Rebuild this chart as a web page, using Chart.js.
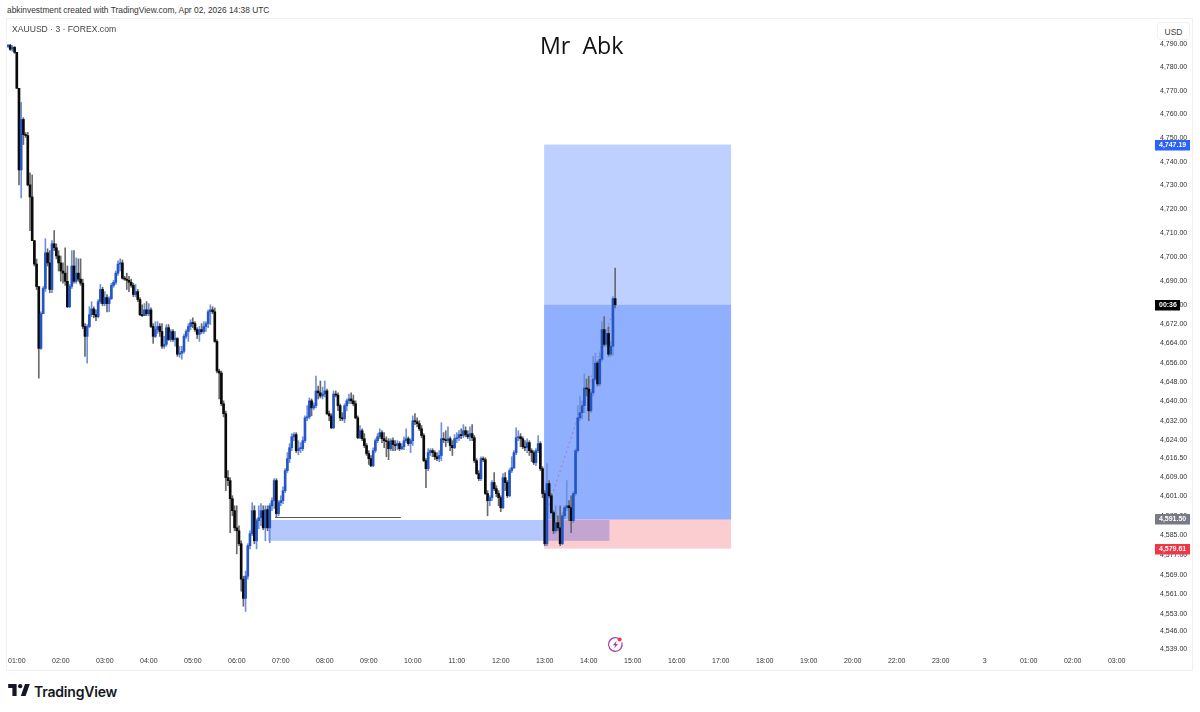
<!DOCTYPE html>
<html>
<head>
<meta charset="utf-8">
<title>XAUUSD</title>
<script src="https://cdn.jsdelivr.net/npm/chart.js@4"></script>
<style>
  html, body { margin: 0; background: #fff; width: 1200px; height: 712px; overflow: hidden; font-family: "Liberation Sans", sans-serif; }
  .abs { position: absolute; white-space: nowrap; }
  #frame { left: 6px; top: 18px; width: 1185px; height: 651px; border: 1px solid #f0f0f0; }
  #frame canvas { display: block; }
  #credit { left: 7px; top: 5px; font-size: 8.4px; color: #333; }
  #symbol { left: 12px; top: 24px; font-size: 8.6px; color: #444; }
  #title { left: 540px; top: 29px; font-size: 23.2px; color: #111; font-family: "Open Sans", sans-serif; white-space: pre; }
  #usd { left: 1157px; top: 22px; width: 33px; height: 18px; line-height: 18px; text-align: center; font-size: 8.5px; color: #444; background: #fff; border: 1px solid #f2f2f2; border-radius: 3px; box-sizing: border-box; }
  #brand { left: 34px; top: 683px; font-size: 14px; font-weight: 600; color: #131722; font-family: "Inter", sans-serif; letter-spacing: -0.2px; }
</style>
</head>
<body>
<div id="credit" class="abs">abkinvestment created with TradingView.com, Apr 02, 2026 14:38 UTC</div>
<div id="frame" class="abs"><canvas id="chart" width="1185" height="651"></canvas></div>
<div id="symbol" class="abs">XAUUSD · 3 · FOREX.com</div>
<div id="title" class="abs">Mr  Abk</div>
<div id="usd" class="abs">USD</div>
<svg class="abs" style="left:607px;top:636px" width="17" height="17" viewBox="0 0 17 17">
  <path d="M12.6 3.2A6.8 6.8 0 1 0 14.8 6.4" fill="none" stroke="#9c3fb5" stroke-width="1.2"/>
  <path d="M9.6 4.8 6 9.2h2.2L7.2 12.6 11 8h-2.2z" fill="#9c3fb5"/>
  <circle cx="12.6" cy="3.6" r="2" fill="#f23645"/>
</svg>
<svg class="abs" style="left:8px;top:684px" width="22" height="12" viewBox="0 0 36 20">
  <path d="M14 0H0v6.5h7V20h7zM29 20h-8l7-20h8z" fill="#131722"/><circle cx="20" cy="3.6" r="3.6" fill="#131722"/>
</svg>
<div id="brand" class="abs">TradingView</div>

<script>
// 3 minute candles. first candle sits just left of the 01:00 label
var opens = [
  4788.8,4789.2,4787.6,4788.4,4786.3,4771,4736.5,4757.8,4751.4,4751,4730.2,4725.1,4706.8,4697,4687.6,4661.9,4676.3,4686.8,4701.7,4697.5,
  4686.4,4705.5,4703.8,4700.4,4697.5,4694.1,4693.2,4689.8,4679.2,4687.7,4696.2,4689.8,4693.2,4690.7,4689,4671,4666.9,4671,4675.9,4678.3,
  4675.9,4675.1,4681.3,4686.4,4680.5,4683,4680.5,4682.6,4688.1,4689.4,4693.2,4697,4697.5,4691.1,4690.7,4690.2,4689.4,4688.1,4684.3,4685.5,
  4682.2,4675.9,4675.5,4677.9,4676.3,4677.9,4671,4666.9,4669.7,4671,4668.9,4662.8,4663.6,4670.5,4665.6,4668.9,4665.6,4666,4659.5,4659.9,
  4660.7,4666.9,4668.9,4671,4672.6,4672.2,4669.7,4667.7,4669.7,4668.9,4671,4672.2,4677.1,4677.9,4677.1,4664.8,4652.5,4651.7,4639,4634.9,
  4608.6,4607.4,4600,4595.1,4588.1,4586.9,4581.6,4567.2,4559.4,4568.4,4580.8,4585.7,4595.1,4582.8,4591,4592.2,4595.1,4588.1,4595.5,4588.1,
  4597.1,4599.2,4607.4,4593.9,4598.4,4599.2,4603.3,4611.5,4616.4,4620.9,4625.4,4626.3,4619.7,4620.5,4620.5,4623.8,4633.2,4633.6,4640.2,4637.3,
  4638.2,4644.3,4643.5,4642.2,4643,4644.3,4634.9,4634,4629.1,4643,4642.6,4638.2,4633.2,4632.8,4638.2,4640.2,4641,4640.2,4639,4633.2,
  4625,4627.9,4624.6,4621.8,4618.5,4616.4,4613.5,4619.7,4623.8,4625.4,4627.1,4624.6,4623.8,4623.4,4620.5,4623.8,4622.2,4621.8,4622.6,4620.5,
  4621.3,4623.8,4624.6,4622.6,4623.8,4632,4631.6,4630.8,4628.7,4625.9,4615.6,4612.3,4618.9,4619.7,4618.9,4617.2,4616.4,4617.7,4624.6,4624.2,
  4623.8,4624.6,4621.8,4620.9,4624.6,4625,4626.3,4625.9,4627.9,4626.3,4625.4,4626.7,4625,4615.6,4610.3,4608.2,4616.4,4616,4602.1,4599.2,
  4600.4,4606.6,4604.1,4602.1,4600.4,4596.3,4608.6,4606.6,4601.2,4611.5,4612.7,4618.9,4625,4625.4,4624.6,4621.3,4620.9,4623,4619.7,4618.9,
  4614.8,4619.7,4622.6,4612.3,4602.1,4581.6,4606.2,4601.2,4594.3,4586.9,4590.2,4588.1,4581.6,4593,4596.3,4597.1,4596.3,4591,4602.1,4619.7,
  4633.2,4635.3,4638.2,4645.5,4645.1,4636.1,4643.5,4649.2,4655.8,4647.2,4657.4,4669.7,4663.6,4668.1,4659.5,4662.8,4682.6
];
var highs = [
  4789.7,4789.7,4789.2,4788.8,4786.3,4771,4765,4758.6,4752.3,4752.3,4735.3,4734.4,4706.8,4699.1,4687.6,4677.1,4687.6,4707.6,4703.4,4702.6,
  4706.8,4711,4705.5,4702.6,4700.4,4697.5,4703.8,4696.2,4688.5,4702.6,4702.6,4699.6,4699.2,4699.2,4690.7,4672.2,4671.8,4679.2,4681.3,4679.2,
  4677.9,4682.2,4688.5,4687.3,4685.5,4684.3,4683.4,4689,4690.2,4694.1,4698.3,4699.2,4698.7,4691.9,4693.2,4691.9,4690.7,4689,4688.5,4686.4,
  4683,4680,4680.5,4681.3,4680.5,4678.7,4672.2,4673,4673,4672.2,4672.2,4666.9,4671.8,4671.8,4669.7,4669.7,4668.9,4666.4,4662.8,4662.8,
  4667.7,4669.7,4672.2,4673.8,4674.6,4673,4670.5,4671,4672.2,4673,4673,4677.9,4680,4679.2,4678.7,4665.6,4653.3,4652.5,4640.2,4636,
  4611.5,4608.6,4601.2,4597.1,4597.1,4588.9,4582.8,4568.4,4570.5,4581.6,4586.9,4598.4,4597.1,4591.8,4597.1,4598,4597.1,4597.1,4597.1,4598,
  4600.4,4608.2,4608.2,4599.2,4601.2,4604.9,4612.3,4618.9,4622.6,4626.7,4627.1,4627.1,4623.8,4623,4625.4,4634,4638.2,4641.4,4641,4639.4,
  4650.4,4646.3,4648.4,4645.9,4648.4,4645.1,4636,4634.9,4644.3,4644.3,4643.5,4638.9,4635.3,4639,4641,4643,4643.5,4642.6,4640.2,4634,
  4630,4628.7,4626.7,4622.6,4619.7,4617.7,4620.9,4624.6,4626.7,4628.7,4627.9,4627.1,4625.4,4624.6,4624.6,4625,4623.8,4623.8,4623.4,4622.6,
  4625.4,4628.7,4625.4,4624.6,4634,4634.9,4633.2,4632,4630,4626.7,4616.4,4620.5,4620.5,4620.5,4619.7,4618.9,4619.7,4631.2,4627.1,4627.9,
  4629.5,4625.4,4623.8,4626.3,4627.1,4627.9,4628.7,4630.4,4629.5,4627.9,4629.5,4630.4,4625.9,4616.4,4611.5,4617.2,4617.2,4616.8,4603.3,4601.2,
  4607.4,4610.7,4605.3,4603.3,4601.2,4610.3,4610.7,4607.4,4612.3,4617.2,4619.7,4629.1,4627.9,4626.7,4625.4,4623.8,4624.6,4623.8,4620.5,4619.7,
  4620.5,4625.9,4623.4,4613.1,4603.3,4614.4,4607.4,4602.1,4595.1,4597.1,4593,4597.1,4594.3,4597.1,4607.4,4599.2,4601.2,4602.9,4620.5,4638.2,
  4642.2,4640.2,4651.3,4649.2,4650.4,4645.1,4658.6,4659.9,4656.6,4659.9,4673,4675.1,4669.7,4670.9,4664.8,4683.4,4695.3
];
var lows = [
  4788.4,4787.1,4786.7,4785.8,4771,4730.2,4724.7,4747.2,4750.2,4729.8,4711,4706.8,4696.2,4686.4,4649.6,4661.5,4676.3,4685.5,4696.2,4685,
  4685.1,4702.6,4699.2,4694.1,4689.8,4689,4688.1,4678.8,4678.8,4686.8,4689,4689,4689.8,4688.1,4670.1,4658.6,4655.8,4670.5,4675.1,4674.6,
  4673.4,4674.6,4680.5,4679.6,4679.6,4677.1,4677.1,4682.2,4687.3,4688.5,4692.3,4694.1,4690.7,4690.2,4686.4,4685.5,4687.3,4683.4,4683.4,4681.3,
  4675.5,4675.1,4675.5,4675.5,4675.5,4670.5,4664,4666.4,4668.1,4666.9,4661.9,4661.9,4662.8,4665.2,4664.8,4664.8,4662.8,4658.6,4658.2,4657.4,
  4659.9,4666,4664.8,4669.7,4670.5,4668.9,4666,4664.8,4668.1,4668.1,4668.9,4670.5,4671.8,4676.3,4664.4,4651.7,4641,4638.2,4633.6,4603.3,
  4605.3,4586.1,4593,4586.9,4577.5,4580.8,4562.3,4556.2,4554.1,4567.2,4579.5,4584.9,4581.6,4579.5,4587.7,4589,4587.3,4582.8,4586.9,4582,
  4595.1,4595.9,4592.6,4593,4597.1,4598,4602.5,4610.7,4614.8,4619.7,4623.8,4618.9,4618,4618.9,4619.7,4623,4632,4632.8,4634,4636.5,
  4637.3,4641,4641.4,4641,4641.8,4634.5,4632,4628.7,4628.7,4641.8,4636.1,4632,4632,4631.2,4636.1,4639,4639,4638.2,4632.8,4624.6,
  4624.6,4623.8,4620.9,4617.7,4614,4613.1,4613.1,4618.9,4623,4624.6,4623,4620.9,4617.2,4616,4619.7,4619.7,4619.7,4620.1,4619.7,4620.1,
  4620.1,4623,4621.8,4618.9,4621.8,4630.4,4629.5,4627.9,4625,4615.2,4604.5,4611.5,4617.7,4617.2,4616,4615.6,4615.2,4615.6,4623,4621.3,
  4623,4619.7,4617.7,4620.5,4623,4623.8,4624.6,4625,4625.4,4624.6,4623.8,4623.8,4614.8,4609.9,4607.4,4607.4,4615.2,4601.7,4593,4597.1,
  4599.2,4603.3,4600.8,4597.1,4594.7,4595.9,4603.3,4600.4,4600.8,4610.7,4612.3,4618,4623.8,4621.3,4620.5,4619.7,4618.9,4617.7,4615.2,4614,
  4613.5,4618.9,4611.5,4600.4,4580.8,4580.8,4600.4,4593.9,4585.7,4586.1,4586.9,4580.8,4581.2,4591.8,4595.1,4591,4586.1,4590.2,4601.2,4618.9,
  4632,4632.8,4635.3,4642.2,4632,4635.3,4642.2,4648.4,4646.3,4646.3,4656.6,4662.8,4662.8,4658.6,4658.6,4659,4678.7
];
var closes = [
  4789.2,4787.6,4788.4,4786.3,4771,4736.5,4757.8,4751.4,4751,4730.2,4725.1,4706.8,4697,4687.6,4661.9,4676.3,4686.8,4701.7,4697.5,4686.4,
  4705.5,4703.8,4700.4,4697.5,4694.1,4693.2,4689.8,4679.2,4687.7,4696.2,4689.8,4693.2,4690.7,4689,4671,4666.9,4671,4675.9,4678.3,4675.9,
  4675.1,4681.3,4686.4,4680.5,4683,4680.5,4682.6,4688.1,4689.4,4693.2,4697,4697.5,4691.1,4690.7,4690.2,4689.4,4688.1,4684.3,4685.5,4682.2,
  4675.9,4675.5,4677.9,4676.3,4677.9,4671,4666.9,4669.7,4671,4668.9,4662.8,4663.6,4670.5,4665.6,4668.9,4665.6,4666,4659.5,4659.9,4660.7,
  4666.9,4668.9,4671,4672.6,4672.2,4669.7,4667.7,4669.7,4668.9,4671,4672.2,4677.1,4677.9,4677.1,4664.8,4652.5,4651.7,4639,4634.9,4608.6,
  4607.4,4600,4595.1,4588.1,4586.9,4581.6,4567.2,4559.4,4568.4,4580.8,4585.7,4595.1,4582.8,4591,4592.2,4595.1,4588.1,4595.5,4588.1,4597.1,
  4599.2,4607.4,4593.9,4598.4,4599.2,4603.3,4611.5,4616.4,4620.9,4625.4,4626.3,4619.7,4620.5,4620.5,4623.8,4633.2,4633.6,4640.2,4637.3,4638.2,
  4644.3,4643.5,4642.2,4643,4644.3,4634.9,4634,4629.1,4643,4642.6,4638.2,4633.2,4632.8,4638.2,4640.2,4641,4640.2,4639,4633.2,4625,
  4627.9,4624.6,4621.8,4618.5,4616.4,4613.5,4619.7,4623.8,4625.4,4627.1,4624.6,4623.8,4623.4,4620.5,4623.8,4622.2,4621.8,4622.6,4620.5,4621.3,
  4623.8,4624.6,4622.6,4623.8,4632,4631.6,4630.8,4628.7,4625.9,4615.6,4612.3,4618.9,4619.7,4618.9,4617.2,4616.4,4617.7,4624.6,4624.2,4623.8,
  4624.6,4621.8,4620.9,4624.6,4625,4626.3,4625.9,4627.9,4626.3,4625.4,4626.7,4625,4615.6,4610.3,4608.2,4616.4,4616,4602.1,4599.2,4600.4,
  4606.6,4604.1,4602.1,4600.4,4596.3,4608.6,4606.6,4601.2,4611.5,4612.7,4618.9,4625,4625.4,4624.6,4621.3,4620.9,4623,4619.7,4618.9,4614.8,
  4619.7,4622.6,4612.3,4602.1,4581.6,4606.2,4601.2,4594.3,4586.9,4590.2,4588.1,4581.6,4593,4596.3,4597.1,4596.3,4591,4602.1,4619.7,4633.2,
  4635.3,4638.2,4645.5,4645.1,4636.1,4643.5,4649.2,4655.8,4647.2,4657.4,4669.7,4663.6,4668.1,4659.5,4662.8,4682.6,4680
];

var priceTicks = [4790,4780,4770,4760,4750,4740,4730,4720,4710,4700,4690,4680,4672,4664,4656,4648,4640,4632,4624,4616.5,4609,4601,4593,4585,4577,4569,4561,4553,4546,4539];
var timeTickIndex = [4,24,44,64,84,104,124,144,164,184,204,224,244,264,284,304,324,344,364,384,404,424,444,464,484,504];
var timeLabels = ['01:00','02:00','03:00','04:00','05:00','06:00','07:00','08:00','09:00','10:00','11:00','12:00','13:00','14:00','15:00','16:00','17:00','18:00','19:00','20:00','22:00','23:00','3','01:00','02:00','03:00'];

// long position drawing
var posLeft = 243.7, posRight = 328.7;
var entryPrice = 4591.5, targetPrice = 4747.19, stopPrice = 4579.61, lastPrice = 4680;
// demand box and the line above it
var boxLeft = 118.2, boxRight = 273.4, boxTop = 4591.3, boxBottom = 4582.8;
var levelLeft = 121.4, levelRight = 178.6, levelPrice = 4592.3;

var up = '#2456c8', down = '#0a0a0a';
var upWick = '#6f90dc', downWick = '#6a6a6a';

var wicks = [], bodies = [], wickColors = [], bodyColors = [];
for (var i = 0; i < closes.length; i++) {
  var rising = closes[i] >= opens[i];
  wicks.push({ x: i, y: [lows[i], highs[i]] });
  bodies.push({ x: i, y: [opens[i], closes[i]] });
  wickColors.push(rising ? upWick : downWick);
  bodyColors.push(rising ? up : down);
}

function fmt(v) {
  return v.toLocaleString('en-US', { minimumFractionDigits: 2, maximumFractionDigits: 2 });
}

// boxes go under the candles
var drawings = {
  id: 'drawings',
  beforeDatasetsDraw: function (chart) {
    var c = chart.ctx, sx = chart.scales.x, sy = chart.scales.y;
    function box(l, r, top, bottom, color) {
      var x0 = sx.getPixelForValue(l), x1 = sx.getPixelForValue(r);
      var y0 = sy.getPixelForValue(top), y1 = sy.getPixelForValue(bottom);
      c.fillStyle = color;
      c.fillRect(x0, y0, x1 - x0, y1 - y0);
    }
    box(boxLeft, boxRight, boxTop, boxBottom, 'rgba(41,98,255,0.35)');
    box(posLeft, posRight, targetPrice, entryPrice, 'rgba(41,98,255,0.3)');
    box(posLeft, posRight, lastPrice, entryPrice, 'rgba(41,98,255,0.3)');
    box(posLeft, posRight, entryPrice, stopPrice, 'rgba(242,54,69,0.25)');

    c.save();
    c.strokeStyle = '#55565c';
    c.lineWidth = 1;
    c.beginPath();
    c.moveTo(sx.getPixelForValue(levelLeft), sy.getPixelForValue(levelPrice));
    c.lineTo(sx.getPixelForValue(levelRight), sy.getPixelForValue(levelPrice));
    c.stroke();
    c.strokeStyle = 'rgba(170,110,130,0.75)';
    c.setLineDash([2, 3]);
    c.beginPath();
    c.moveTo(sx.getPixelForValue(posLeft), sy.getPixelForValue(entryPrice));
    c.lineTo(sx.getPixelForValue(closes.length - 1), sy.getPixelForValue(lastPrice));
    c.stroke();
    c.restore();
  }
};

// price tags on the right axis
var tags = {
  id: 'tags',
  afterDraw: function (chart) {
    var c = chart.ctx, sy = chart.scales.y, left = chart.chartArea.right;
    function tag(price, text, color, w) {
      var y = Math.round(sy.getPixelForValue(price));
      c.fillStyle = color;
      c.fillRect(left, y - 5, w, 10.5);
      c.fillStyle = '#fff';
      c.font = 'bold 7px "Liberation Sans"';
      c.textBaseline = 'middle';
      c.textAlign = 'left';
      c.fillText(text, left + 4, y + 0.5);
    }
    tag(targetPrice, fmt(targetPrice), '#2962ff', 35);
    tag(entryPrice, fmt(entryPrice), '#787b86', 35);
    tag(stopPrice, fmt(stopPrice), '#f23645', 35);
    tag(lastPrice, '00:36', '#000', 25);
  }
};

// chart.js insets the plot for the edge labels, the plot has to fill the frame here
function noEdgePadding(s) {
  s.paddingLeft = s.paddingRight = s.paddingTop = s.paddingBottom = 0;
}

new Chart(document.getElementById('chart').getContext('2d'), {
  type: 'bar',
  data: {
    datasets: [
      { data: wicks, backgroundColor: wickColors, barThickness: 1, minBarLength: 1, order: 2 },
      { data: bodies, backgroundColor: bodyColors, barThickness: 2, minBarLength: 1, order: 1 }
    ]
  },
  options: {
    responsive: false,
    animation: false,
    events: [],
    grouped: false,
    layout: { padding: 0 },
    plugins: { legend: { display: false }, tooltip: { enabled: false } },
    scales: {
      x: {
        type: 'linear',
        offset: false,
        min: -0.45,
        max: 521.4,
        grid: { display: false, drawTicks: false, offset: false },
        border: { display: false },
        afterBuildTicks: function (s) { s.ticks = timeTickIndex.map(function (v) { return { value: v }; }); },
        afterFit: function (s) { s.height = 18; noEdgePadding(s); },
        ticks: {
          autoSkip: false, maxRotation: 0, padding: 5,
          color: '#333', font: { family: '"Liberation Sans"', size: 7 },
          callback: function (v, idx) { return timeLabels[idx]; }
        }
      },
      y: {
        type: 'logarithmic',
        position: 'right',
        min: 4537.7,
        max: 4800.5,
        grid: { display: false, drawTicks: false },
        border: { display: false },
        afterBuildTicks: function (s) { s.ticks = priceTicks.map(function (v) { return { value: v }; }); },
        afterFit: function (s) { s.width = 37; noEdgePadding(s); },
        ticks: {
          autoSkip: false, padding: 5,
          color: '#333', font: { family: '"Liberation Sans"', size: 7 },
          callback: function (v) { return fmt(v); }
        }
      }
    }
  },
  plugins: [drawings, tags]
});
</script>
</body>
</html>
